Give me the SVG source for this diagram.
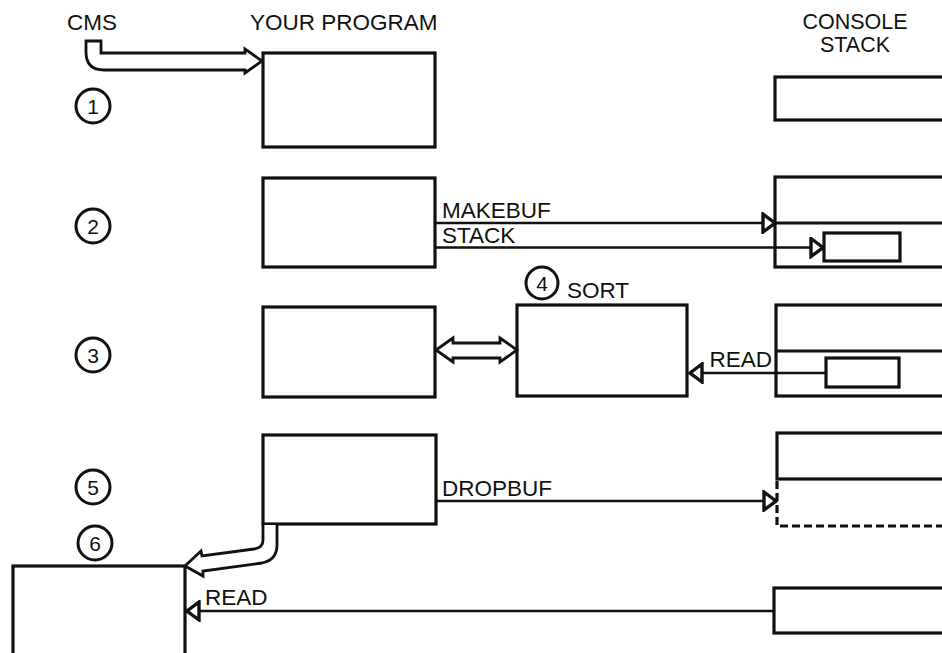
<svg xmlns="http://www.w3.org/2000/svg" width="942" height="653" viewBox="0 0 942 653">
<style>
.box{fill:#fff;stroke:#111;stroke-width:3.2}
.ln{fill:none;stroke:#111;stroke-width:2.5}
.pipe{fill:#fff;stroke:#111;stroke-width:2.8;stroke-linejoin:miter}
.dash{fill:none;stroke:#111;stroke-width:3.2;stroke-dasharray:8 4}
.t{font-family:"Liberation Sans",Arial,sans-serif;font-size:22.5px;fill:#111}
.hd{font-family:"Liberation Sans",Arial,sans-serif;font-size:21.5px;fill:#111;text-anchor:middle}
.num{font-family:"Liberation Sans",Arial,sans-serif;font-size:21px;fill:#111;text-anchor:middle}
.circ{fill:none;stroke:#111;stroke-width:3}
</style>
<defs>
<marker id="ah" viewBox="0 0 16 22" markerWidth="16" markerHeight="22" refX="15" refY="11" orient="auto" markerUnits="userSpaceOnUse">
<path d="M2,2 L14,11 L2,20 Z" fill="#fff" stroke="#111" stroke-width="3.4" stroke-linejoin="miter"/>
</marker>
</defs>
<rect width="942" height="653" fill="#fff"/>

<g id="labels">
<text class="t" x="67" y="30">CMS</text>
<text class="t" x="250" y="30">YOUR PROGRAM</text>
<text class="hd" x="855" y="29">CONSOLE</text>
<text class="hd" x="855" y="52">STACK</text>
</g>

<g id="steps">
<g id="step1"><circle class="circ" cx="93" cy="106" r="17"/><text class="num" x="93" y="113.5">1</text></g>
<g id="step2"><circle class="circ" cx="93" cy="226" r="17"/><text class="num" x="93" y="233.5">2</text></g>
<g id="step3"><circle class="circ" cx="93" cy="355" r="17"/><text class="num" x="93" y="362.5">3</text></g>
<g id="step4"><circle class="circ" cx="542" cy="283" r="16"/><text class="num" x="542" y="290.5">4</text></g>
<g id="step5"><circle class="circ" cx="93" cy="487" r="17"/><text class="num" x="93" y="494.5">5</text></g>
<g id="step6"><circle class="circ" cx="95" cy="543" r="17"/><text class="num" x="95" y="550.5">6</text></g>
</g>

<g id="prog1"><rect class="box" x="263" y="53" width="172" height="94"/></g>
<g id="stack1"><rect class="box" x="775" y="77" width="190" height="43"/></g>

<g id="prog2"><rect class="box" x="263" y="178" width="172" height="89"/></g>
<g id="stack2">
<rect class="box" x="775" y="177" width="190" height="90"/>
<line class="ln" x1="775" y1="223" x2="942" y2="223" style="stroke-width:3.2"/>
<rect class="box" x="824" y="233" width="76" height="28"/>
</g>

<g id="prog3"><rect class="box" x="263" y="307" width="172" height="90"/></g>
<g id="sort"><rect class="box" x="517" y="305" width="170" height="91"/>
<text class="t" x="567" y="298">SORT</text></g>
<g id="stack3">
<rect class="box" x="776" y="305" width="190" height="91"/>
<line class="ln" x1="776" y1="351" x2="942" y2="351" style="stroke-width:3.2"/>
<rect class="box" x="826" y="358" width="73" height="29"/>
</g>

<g id="prog5"><rect class="box" x="263" y="435" width="173" height="89"/></g>
<g id="stack5">
<rect class="box" x="777" y="433" width="190" height="46"/>
<path class="dash" d="M777,481 L777,526 L942,526"/>
</g>

<g id="prog6"><rect class="box" x="13" y="566" width="172" height="120"/></g>
<g id="stack6"><rect class="box" x="774" y="588" width="190" height="45"/></g>

<g id="connectors">
<path class="pipe" d="M86,41 L86,52 Q86,70 104,70 L245,70 L245,73 L262,61 L245,49 L245,53 L101,53 L101,41 Z"/>
<line class="ln" x1="435" y1="223" x2="776" y2="223" marker-end="url(#ah)"/>
<text class="t" x="442" y="218">MAKEBUF</text>
<line class="ln" x1="435" y1="247.5" x2="824" y2="247.5" marker-end="url(#ah)"/>
<text class="t" x="442" y="243">STACK</text>
<path class="pipe" d="M436,350 L453,338 L453,343 L500,343 L500,338 L517,350 L500,362 L500,358 L453,358 L453,362 Z"/>
<line class="ln" x1="826" y1="373" x2="689" y2="373" marker-end="url(#ah)"/>
<text class="t" x="772" y="367" text-anchor="end">READ</text>
<line class="ln" x1="436" y1="501" x2="777" y2="501" marker-end="url(#ah)"/>
<text class="t" x="442" y="496">DROPBUF</text>
<path class="pipe" d="M263,525 L263,540 Q263,548 254,549 L202,556 L201,551 L185,566 L203,576 L203,571 L262,563 Q277,560 277,545 L277,525"/>
<line class="ln" x1="774" y1="611" x2="186" y2="611" marker-end="url(#ah)"/>
<text class="t" x="205" y="605">READ</text>
</g>
</svg>
